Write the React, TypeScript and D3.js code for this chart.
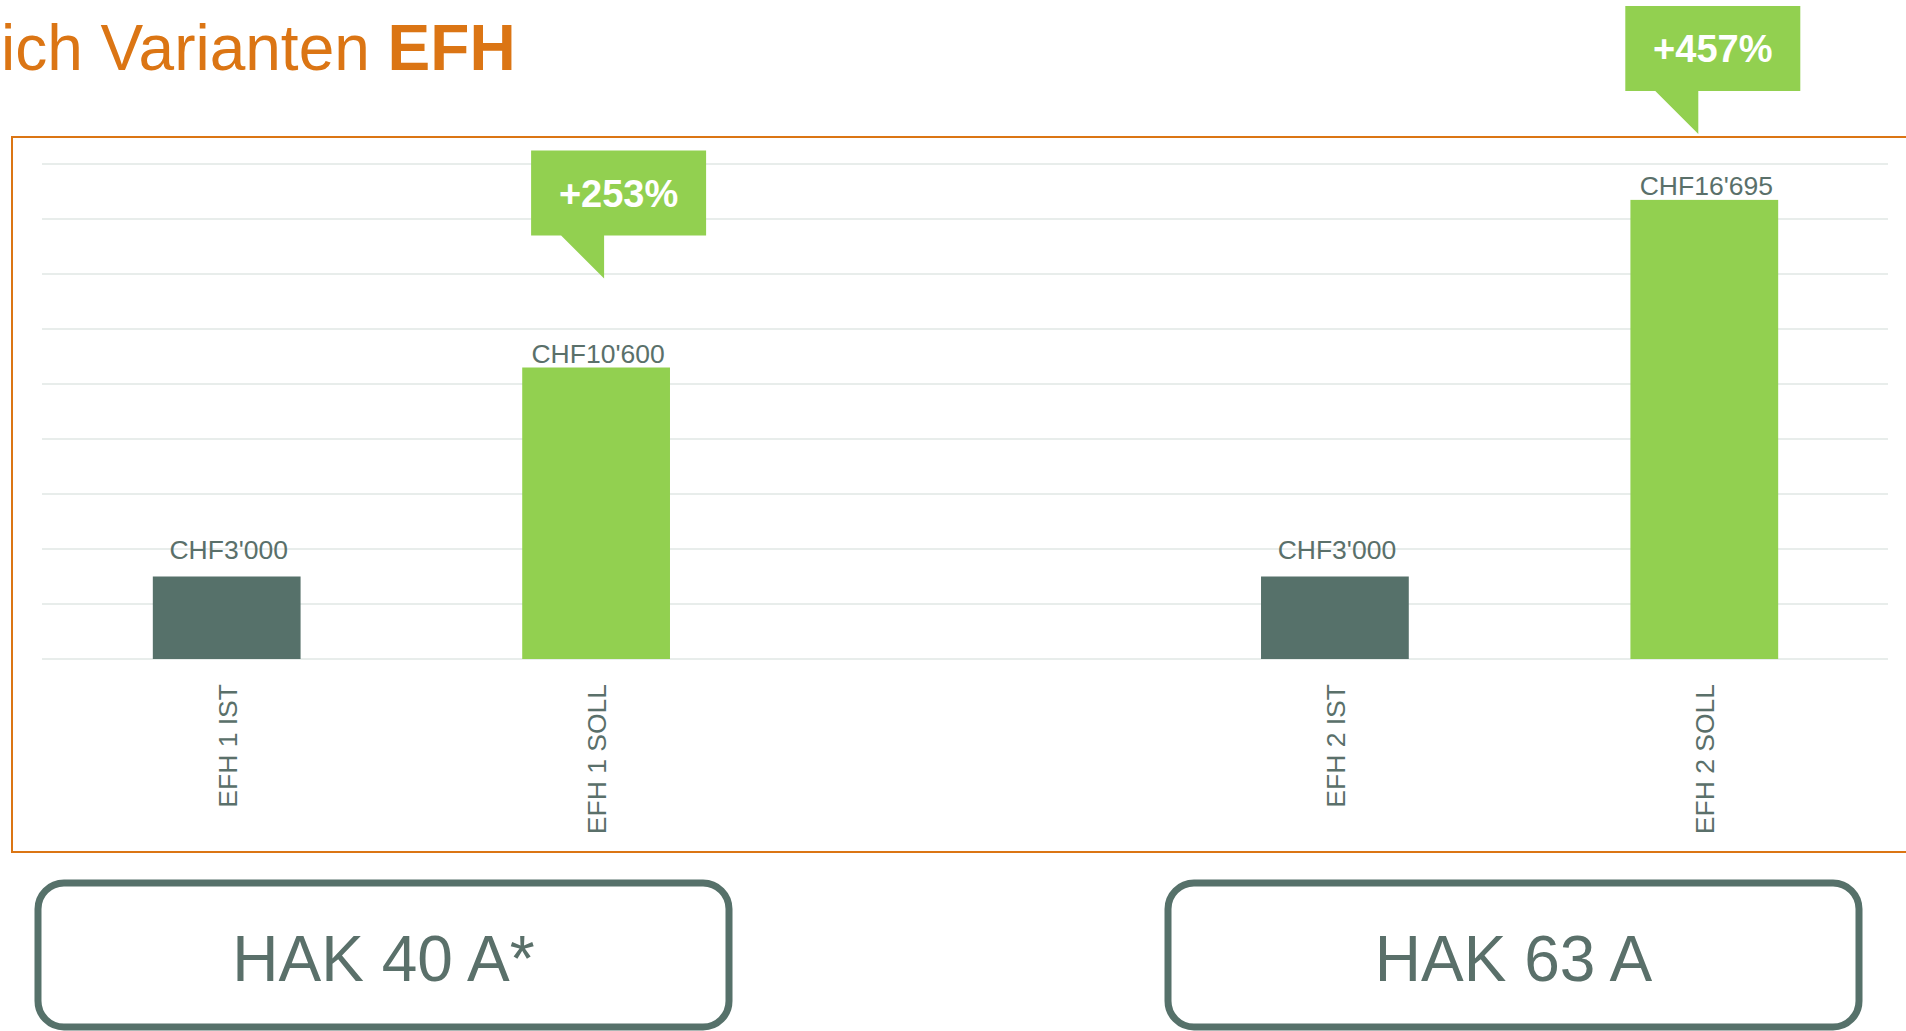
import React from 'react'
import * as d3 from 'd3'

// chart data
const categories = ['EFH 1 IST', 'EFH 1 SOLL', 'gap', 'EFH 2 IST', 'EFH 2 SOLL']
const kinds = ['ist', 'soll', null, 'ist', 'soll']
const costs = [3000, 10600, null, 3000, 16695]
// callouts compare an IST bar (from) with its SOLL bar (to)
const compareFrom = ['EFH 1 IST', 'EFH 2 IST']
const compareTo = ['EFH 1 SOLL', 'EFH 2 SOLL']
const groupLabels = ['HAK 40 A*', 'HAK 63 A']
const titleRegular = 'ich Varianten '
const titleBold = 'EFH'

const W = 1906
const H = 1031
const FONT = '"Liberation Sans", Arial, Helvetica, sans-serif'
const ORANGE = '#DB7514'
const GREEN = '#92D050'
const DARK = '#56716A'
const TEXT = '#5A706A'
const GRID = '#E1E7E5'

const chf = d3.formatLocale({
  decimal: '.',
  thousands: "'",
  grouping: [3],
  currency: ['CHF', '']
})
const fmtCost = chf.format('$,.0f')
const fmtPct = d3.format('+.0%')

// layout tweaks for callouts and group boxes
const calloutNudge = [
  { dx: 8, lift: 89 },
  { dx: -6, lift: 66 }
]
const groupBoxX = [38, 1168]

const App = () => {
  const x = d3
    .scaleBand()
    .domain(categories)
    .range([42, 1889])
    .paddingInner(0.6)
    .paddingOuter(0.3)

  const y = d3.scaleLinear().domain([0, 18000]).range([659, 164])

  const bw = x.bandwidth()
  const cx = (c: string) => (x(c) as number) + bw / 2
  const valueOf = (c: string) => costs[categories.indexOf(c)] as number

  return (
    <svg
      width={W}
      height={H}
      style={{ position: 'absolute', left: 0, top: 0, display: 'block', fontFamily: FONT }}
    >
      <rect width={W} height={H} fill="#fff" />

      {/* title (cut at the left edge) */}
      <text x={1} y={70} fontSize={64} fill={ORANGE}>
        {titleRegular}
        <tspan fontWeight="bold">{titleBold}</tspan>
      </text>

      {/* orange frame */}
      <rect x={12} y={137} width={1930} height={715} fill="none" stroke={ORANGE} strokeWidth={2} />

      {/* gridlines */}
      {y.ticks(9).map(t => (
        <line key={t} x1={42} x2={1888} y1={y(t)} y2={y(t)} stroke={GRID} strokeWidth={1.6} />
      ))}

      {/* bars */}
      {categories.map((c, i) => {
        const v = costs[i]
        if (v == null) return null
        return (
          <rect
            key={c}
            x={x(c)}
            y={y(v)}
            width={bw}
            height={y(0) - y(v)}
            fill={kinds[i] === 'soll' ? GREEN : DARK}
          />
        )
      })}

      {/* value labels */}
      {categories.map((c, i) => {
        const v = costs[i]
        if (v == null) return null
        return (
          <text
            key={c}
            x={cx(c) + 2}
            y={y(v) - (kinds[i] === 'soll' ? 5 : 18)}
            textAnchor="middle"
            fontSize={26.5}
            fill={TEXT}
          >
            {fmtCost(v)}
          </text>
        )
      })}

      {/* category labels */}
      {categories.map((c, i) =>
        costs[i] == null ? null : (
          <text
            key={c}
            transform={`translate(${cx(c) + 10},684) rotate(-90)`}
            textAnchor="end"
            fontSize={26.5}
            fill={TEXT}
          >
            {c}
          </text>
        )
      )}

      {/* callouts */}
      {compareTo.map((c, i) => {
        const base = valueOf(compareFrom[i])
        const v = valueOf(c)
        const tx = cx(c) + calloutNudge[i].dx
        const ty = y(v) - calloutNudge[i].lift
        const top = ty - 128
        const bottom = ty - 43
        const path = `M${tx - 73},${top}H${tx + 102}V${bottom}H${tx}V${ty}L${tx - 43},${bottom}H${tx - 73}Z`
        return (
          <g key={c}>
            <path d={path} fill={GREEN} />
            <text
              x={tx + 14.5}
              y={(top + bottom) / 2 + 13.5}
              textAnchor="middle"
              fontSize={38}
              fontWeight="bold"
              fill="#fff"
            >
              {fmtPct((v - base) / base)}
            </text>
          </g>
        )
      })}

      {/* HAK boxes */}
      {groupLabels.map((g, i) => (
        <g key={g}>
          <rect
            x={groupBoxX[i]}
            y={883}
            width={691}
            height={144}
            rx={26}
            fill="none"
            stroke={DARK}
            strokeWidth={7}
          />
          <text
            x={groupBoxX[i] + 345.5}
            y={981}
            textAnchor="middle"
            fontSize={64}
            fill={TEXT}
          >
            {g}
          </text>
        </g>
      ))}
    </svg>
  )
}

export default App
